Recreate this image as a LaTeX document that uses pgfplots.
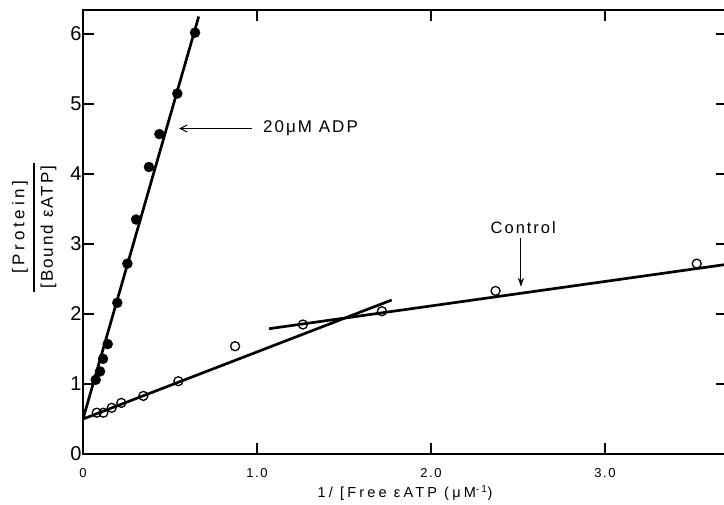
\documentclass[border=0pt]{standalone}
\usepackage{fontspec}
\setmainfont{Liberation Sans}
\newfontfamily\spaced[LetterSpace=12]{Liberation Sans}
\newfontfamily\wide[LetterSpace=22]{Liberation Sans}
\usepackage{pgfplots}
\pgfplotsset{compat=1.18}
\usetikzlibrary{arrows.meta}

% Scatchard-type data: [Protein]/[Bound eATP] vs 1/[Free eATP]
\pgfplotstableread{
x      y
0.073  1.06
0.098  1.18
0.115  1.36
0.142  1.57
0.197  2.16
0.255  2.72
0.305  3.35
0.379  4.10
0.439  4.57
0.542  5.15
0.644  6.02
}\adpdata

\pgfplotstableread{
x      y
0.079  0.59
0.117  0.59
0.165  0.66
0.220  0.73
0.347  0.83
0.548  1.04
0.874  1.54
1.264  1.85
1.718  2.04
2.371  2.33
3.527  2.72
}\ctrldata

\begin{document}
\begin{tikzpicture}
\begin{axis}[
    scale only axis,
    width=644pt, height=444pt,
    xmin=0, xmax=3.701,
    ymin=0, ymax=6.343,
    axis line style={line width=1.5pt},
    tick style={line width=1.3pt, black},
    major tick length=11pt,
    tick align=inside,
    xtick={0,1,2,3},
    xticklabels={0,1.0,2.0,3.0},
    ytick={0,1,2,3,4,5,6},
    yticklabels={0,1,2,3,4,5,6},
    x tick label style={font=\spaced\fontsize{13}{13}\selectfont, yshift=-11pt},
    y tick label style={font=\fontsize{20}{20}\selectfont, xshift=2pt},
    xlabel={1/ [Free εATP (μM\textsuperscript{-1})},
    xlabel style={font=\wide\fontsize{14.5}{14.5}\selectfont, at={(axis description cs:0.5,-0.098)}, anchor=base},
    ylabel={\setlength{\arrayrulewidth}{1.6pt}\begin{tabular}{@{\hspace{3pt}}c@{\hspace{3pt}}}
        {\wide[Protein]}\\[4pt]\hline
        \rule{0pt}{18pt}{\spaced[Bound εATP]}
      \end{tabular}},
    ylabel style={font=\fontsize{17}{17}\selectfont, at={(axis description cs:-0.0745,0.511)}, anchor=center, inner sep=0pt},
]
% fitted lines
\addplot[no marks, line width=2.7pt] coordinates {(0,0.5) (0.665,6.25)};
\addplot[no marks, line width=2.7pt] coordinates {(0,0.5) (1.774,2.20)};
\addplot[no marks, line width=2.7pt] coordinates {(1.069,1.79) (3.701,2.71)};
% data
\addplot[only marks, mark=*, mark size=5pt, black] table[x=x, y=y] {\adpdata};
\addplot[only marks, mark=o, mark size=4.5pt, line width=1.3pt, black,
    mark options={fill=white}] table[x=x, y=y] {\ctrldata};
% annotations
\draw[line width=1pt, -{Straight Barb[length=7pt, width=7pt]}] (axis cs:0.971,4.65) -- (axis cs:0.552,4.65);
\node[anchor=west, font=\spaced\fontsize{17}{17}\selectfont, inner sep=0pt] at (axis cs:1.034,4.65) {20μM ADP};
\draw[line width=1pt, -{Stealth[length=9pt, width=6pt]}] (axis cs:2.517,3.08) -- (axis cs:2.517,2.39);
\node[font=\spaced\fontsize{16.5}{16.5}\selectfont, inner sep=0pt] at (axis cs:2.53,3.24) {Control};
\end{axis}
\pgfresetboundingbox
\path ([shift={(-83pt,-50pt)}]current axis.south west) rectangle ([shift={(-3pt,10pt)}]current axis.north east);
\end{tikzpicture}
\end{document}
